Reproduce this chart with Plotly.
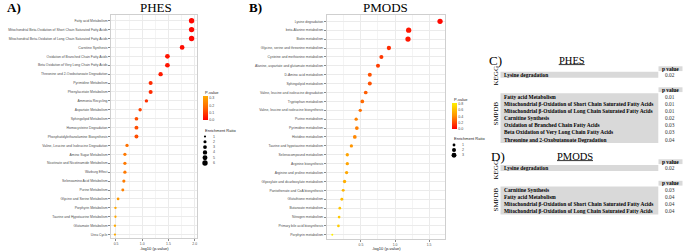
import plotly.graph_objects as go

# ---------------- data ----------------
phes_pathways = [
    "Fatty acid Metabolism",
    "Mitochondrial Beta-Oxidation of Short Chain Saturated Fatty Acids",
    "Mitochondrial Beta-Oxidation of Long Chain Saturated Fatty Acids",
    "Carnitine Synthesis",
    "Oxidation of Branched Chain Fatty Acids",
    "Beta Oxidation of Very Long Chain Fatty Acids",
    "Threonine and 2-Oxobutanoate Degradation",
    "Pyrimidine Metabolism",
    "Phenylacetate Metabolism",
    "Ammonia Recycling",
    "Aspartate Metabolism",
    "Sphingolipid Metabolism",
    "Homocysteine Degradation",
    "Phosphatidylethanolamine Biosynthesis",
    "Valine, Leucine and Isoleucine Degradation",
    "Amino Sugar Metabolism",
    "Nicotinate and Nicotinamide Metabolism",
    "Warburg Effect",
    "Selenoamino Acid Metabolism",
    "Purine Metabolism",
    "Glycine and Serine Metabolism",
    "Porphyrin Metabolism",
    "Taurine and Hypotaurine Metabolism",
    "Glutamate Metabolism",
    "Urea Cycle",
]
phes_neglogp = [1.94, 1.94, 1.94, 1.76, 1.48, 1.48, 1.35, 1.16, 1.16, 1.08, 0.96, 0.89,
                0.89, 0.89, 0.71, 0.67, 0.67, 0.67, 0.65, 0.63, 0.54, 0.49, 0.49, 0.48, 0.48]
phes_ratio = [6.0, 6.0, 6.0, 4.6, 4.6, 4.6, 3.9, 3.4, 3.4, 2.4, 2.4, 2.8, 3.2, 3.2, 2.3,
              2.2, 2.2, 2.2, 2.1, 1.8, 1.5, 1.2, 1.1, 1.2, 1.0]

pmods_pathways = [
    "Lysine degradation",
    "beta-Alanine metabolism",
    "Biotin metabolism",
    "Glycine, serine and threonine metabolism",
    "Cysteine and methionine metabolism",
    "Alanine, aspartate and glutamate metabolism",
    "D-Amino acid metabolism",
    "Sphingolipid metabolism",
    "Valine, leucine and isoleucine degradation",
    "Tryptophan metabolism",
    "Valine, leucine and isoleucine biosynthesis",
    "Purine metabolism",
    "Pyrimidine metabolism",
    "Histidine metabolism",
    "Taurine and hypotaurine metabolism",
    "Selenocompound metabolism",
    "Arginine biosynthesis",
    "Arginine and proline metabolism",
    "Glyoxylate and dicarboxylate metabolism",
    "Pantothenate and CoA biosynthesis",
    "Glutathione metabolism",
    "Butanoate metabolism",
    "Nitrogen metabolism",
    "Primary bile acid biosynthesis",
    "Porphyrin metabolism",
]
pmods_neglogp = [1.66, 1.20, 1.19, 0.91, 0.80, 0.75, 0.63, 0.63, 0.57, 0.52, 0.49, 0.43,
                 0.44, 0.41, 0.36, 0.30, 0.30, 0.29, 0.26, 0.24, 0.22, 0.19, 0.18, 0.17, 0.08]
pmods_ratio = [3.4, 3.4, 3.4, 2.3, 2.0, 2.0, 2.0, 2.0, 1.7, 1.7, 1.35, 1.35, 1.7, 1.7,
               1.35, 1.35, 1.35, 1.35, 1.35, 1.1, 1.1, 0.9, 0.9, 0.9, 0.5]

phes_ratio_breaks = [1, 2, 3, 4, 5, 6]
pmods_ratio_breaks = [1, 2, 3]
phes_p_ticks = [0.0, 0.1, 0.2, 0.3]
pmods_p_ticks = [0.0, 0.2, 0.4, 0.6, 0.8]
x_ticks_phes = [0.5, 1.0, 1.5, 2.0]
x_ticks_pmods = [0.5, 1.0, 1.5]

c_kegg = ["Lysine degradation"]
c_kegg_p = ["0.02"]
c_smpdb = [
    "Fatty acid Metabolism",
    "Mitochondrial β-Oxidation of Short Chain Saturated Fatty Acids",
    "Mitochondrial β-Oxidation of Long Chain Saturated Fatty Acids",
    "Carnitine Synthesis",
    "Oxidation of Branched Chain Fatty Acids",
    "Beta Oxidation of Very Long Chain Fatty Acids",
    "Threonine and 2-Oxobutanoate Degradation",
]
c_smpdb_p = ["0.01", "0.01", "0.01", "0.02", "0.03", "0.03", "0.04"]
d_kegg = ["Lysine degradation"]
d_kegg_p = ["0.02"]
d_smpdb = [
    "Carnitine Synthesis",
    "Fatty acid Metabolism",
    "Mitochondrial β-Oxidation of Short Chain Saturated Fatty Acids",
    "Mitochondrial β-Oxidation of Long Chain Saturated Fatty Acids",
]
d_smpdb_p = ["0.03", "0.04", "0.04", "0.04"]

# ---------------- helpers ----------------
W, H = 685, 251
def fx(x):
    return x / W
def fy(y):
    return 1 - y / H

SERIF = "Liberation Serif"
SANS = "Liberation Sans"
GRAY_TXT = "#4D4D4D"
GRID = "#EBEBEB"

phes_scale = [[0, "#FF0000"], [0.5, "#FF6400"], [1, "#FFAA00"]]
pmods_scale = [[0, "#FF0000"], [0.5, "#FF9000"], [1, "#FFF000"]]

def size_phes(r):
    return 2.2 * r ** 0.5
def size_pmods(r):
    return 2.85 * r ** 0.5

fig = go.Figure()

# Panel A
fig.add_trace(go.Scatter(
    x=phes_neglogp, y=list(range(len(phes_pathways))), mode="markers",
    marker=dict(size=[size_phes(r) for r in phes_ratio],
                color=[10 ** (-v) for v in phes_neglogp],
                colorscale=phes_scale, cmin=0.0, cmax=0.33, line=dict(width=0),
                opacity=1, showscale=True,
                colorbar=dict(x=fx(203), xanchor="left", xpad=0, ypad=0,
                              y=fy(108), yanchor="middle", len=24, lenmode="pixels",
                              thickness=4.5, outlinewidth=0, ticks="",
                              tickvals=phes_p_ticks, ticktext=[f"{v:.1f}" for v in phes_p_ticks],
                              tickfont=dict(size=3.6, color=GRAY_TXT, family=SANS))),
    xaxis="x", yaxis="y", showlegend=False, hoverinfo="skip"))

# Panel B
fig.add_trace(go.Scatter(
    x=pmods_neglogp, y=list(range(len(pmods_pathways))), mode="markers",
    marker=dict(size=[size_pmods(r) for r in pmods_ratio],
                color=[10 ** (-v) for v in pmods_neglogp],
                colorscale=pmods_scale, cmin=0.0, cmax=0.83, line=dict(width=0),
                opacity=1, showscale=True,
                colorbar=dict(x=fx(451.5), xanchor="left", xpad=0, ypad=0,
                              y=fy(116), yanchor="middle", len=26, lenmode="pixels",
                              thickness=4.5, outlinewidth=0, ticks="",
                              tickvals=pmods_p_ticks, ticktext=[f"{v:.1f}" for v in pmods_p_ticks],
                              tickfont=dict(size=3.6, color=GRAY_TXT, family=SANS))),
    xaxis="x2", yaxis="y2", showlegend=False, hoverinfo="skip"))

axis_common = dict(showgrid=True, gridcolor=GRID, gridwidth=0.6, zeroline=False,
                   showline=True, mirror=True, linecolor="#CFCFCF", linewidth=0.7,
                   ticks="outside", ticklen=2, tickcolor="#888888", tickwidth=0.5,
                   tickfont=dict(size=3.4, color=GRAY_TXT, family=SANS))

n1 = len(phes_pathways)
n2 = len(pmods_pathways)

fig.update_layout(
    width=W, height=H, margin=dict(l=0, r=0, t=0, b=0),
    paper_bgcolor="white", plot_bgcolor="white",
    xaxis=dict(domain=[fx(111), fx(196.5)], range=[0.405, 2.034], anchor="y",
               tickvals=x_ticks_phes, ticktext=[f"{v:.1f}" for v in x_ticks_phes],
               minor=dict(showgrid=True, gridcolor="#F4F4F4", dtick=0.25, tick0=0.25),
               **axis_common),
    yaxis=dict(domain=[fy(238.3), fy(15)], range=[n1 - 1 + 0.42, -0.64], anchor="x",
               tickvals=list(range(n1)), ticktext=phes_pathways, **axis_common),
    xaxis2=dict(domain=[fx(326.7), fx(445.3)], range=[-0.002, 1.737], anchor="y2",
                tickvals=x_ticks_pmods, ticktext=[f"{v:.1f}" for v in x_ticks_pmods],
                minor=dict(showgrid=True, gridcolor="#F4F4F4", dtick=0.25, tick0=0.25),
                **axis_common),
    yaxis2=dict(domain=[fy(239.3), fy(15)], range=[n2 - 1 + 0.5, -0.71], anchor="x2",
                tickvals=list(range(n2)), ticktext=pmods_pathways, **axis_common),
)

ann = []
shapes = []

def text(x, y, s, size, family=SANS, color="black", xanchor="center", yanchor="middle", angle=0):
    ann.append(dict(x=fx(x), y=fy(y), xref="paper", yref="paper", text=s, showarrow=False,
                    xanchor=xanchor, yanchor=yanchor, textangle=angle,
                    font=dict(size=size, family=family, color=color)))

# panel titles
text(5, 7.5, "<b>A)</b>", 13, SERIF, xanchor="left")
text(156, 7.5, "PHES", 13, SERIF)
text(247, 7.5, "<b>B)</b>", 13, SERIF, xanchor="left")
text(385, 7.5, "PMODS", 13, SERIF)
# axis titles
text(154, 248.3, "-log10 (p-value)", 4.1, SANS, "#222222")
text(386, 248.6, "-log10 (p-value)", 4.1, SANS, "#222222")

# legend titles
text(203, 92, "P-value", 4.0, SANS, "#222222", xanchor="left")
text(203, 130, "Enrichment Ratio", 4.0, SANS, "#222222", xanchor="left")
text(451.5, 99.5, "P-value", 4.0, SANS, "#222222", xanchor="left")
text(451.5, 138.3, "Enrichment Ratio", 4.0, SANS, "#222222", xanchor="left")

# size legend glyphs
for i, r in enumerate(phes_ratio_breaks):
    yy = 136.5 + i * 5.3
    d = size_phes(r)
    shapes.append(dict(type="circle", xref="paper", yref="paper",
                       x0=fx(205 - d / 2), x1=fx(205 + d / 2), y0=fy(yy + d / 2), y1=fy(yy - d / 2),
                       fillcolor="black", line=dict(width=0)))
    text(211, yy, str(r), 3.6, SANS, GRAY_TXT, xanchor="left")
for i, r in enumerate(pmods_ratio_breaks):
    yy = 145 + i * 5.1
    d = size_pmods(r)
    shapes.append(dict(type="circle", xref="paper", yref="paper",
                       x0=fx(454 - d / 2), x1=fx(454 + d / 2), y0=fy(yy + d / 2), y1=fy(yy - d / 2),
                       fillcolor="black", line=dict(width=0)))
    text(460, yy, str(r), 3.6, SANS, GRAY_TXT, xanchor="left")

# ---------------- tables ----------------
ROWFILL = "#D9D9D9"
TX0, TX1 = 500.5, 658.3
PX0, PX1 = 658.5, 682.5
PCX = 670
TSIZE = 5.4

def header(yc):
    shapes.append(dict(type="rect", xref="paper", yref="paper", x0=fx(PX0), x1=fx(PX1),
                       y0=fy(yc + 2.4), y1=fy(yc - 2.4), fillcolor=ROWFILL, line=dict(width=0)))
    text(PCX, yc, "<b>p value</b>", TSIZE, SERIF)

def block(y_first, names, pvals, step=7.1):
    top = y_first - step / 2
    bot = y_first + step * (len(names) - 1) + step / 2
    shapes.append(dict(type="rect", xref="paper", yref="paper", x0=fx(TX0), x1=fx(TX1),
                       y0=fy(bot), y1=fy(top), fillcolor=ROWFILL, line=dict(width=0)))
    for i, (nm, pv) in enumerate(zip(names, pvals)):
        yy = y_first + i * step
        text(TX0 + 1.5, yy, "<b>" + nm + "</b>", TSIZE, SERIF, xanchor="left")
        text(PCX, yy, pv, TSIZE, SERIF, "#333333")

def underline_title(xc, yc, s, width):
    text(xc, yc, s, 10.5, SERIF)
    shapes.append(dict(type="line", xref="paper", yref="paper", x0=fx(xc - width / 2), x1=fx(xc + width / 2),
                       y0=fy(yc + 4.6), y1=fy(yc + 4.6), line=dict(color="black", width=0.8)))

# C
text(487, 60, "C)", 13, SERIF, xanchor="left")
underline_title(571.7, 60, "PHES", 26)
header(68.7)
block(74.7, c_kegg, c_kegg_p, step=6)
text(495.5, 76, "KEGG", 7, SERIF, angle=-90)
header(89.7)
block(96.9, c_smpdb, c_smpdb_p, step=7.1)
text(495.5, 114, "SMPDB", 7, SERIF, angle=-90)

# D
text(489, 156, "D)", 13, SERIF, xanchor="left")
underline_title(575, 156, "PMODS", 36)
header(161.7)
block(168, d_kegg, d_kegg_p, step=6)
text(495.5, 170, "KEGG", 7, SERIF, angle=-90)
header(183.2)
block(190, d_smpdb, d_smpdb_p, step=7)
text(495.5, 200, "SMPDB", 7, SERIF, angle=-90)

fig.update_layout(annotations=ann, shapes=shapes)
fig.write_html("out.html", config={"displayModeBar": False},
               post_script="document.body.style.margin='0px';document.body.style.padding='0px';")
